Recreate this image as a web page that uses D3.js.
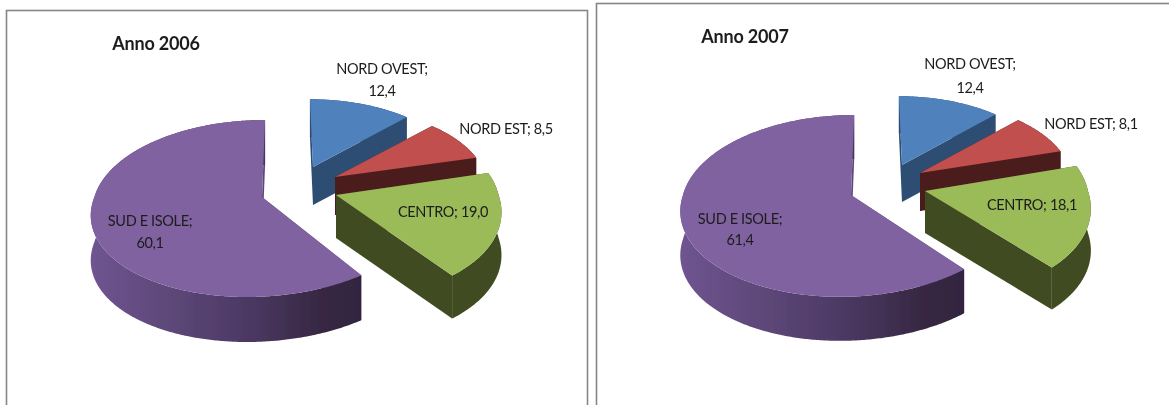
<!DOCTYPE html>
<html>
<head>
<meta charset="utf-8">
<script src="https://cdnjs.cloudflare.com/ajax/libs/d3/7.8.5/d3.min.js"></script>
<style>
html,body{margin:0;padding:0;background:#fff;overflow:hidden}
svg{display:block}
text{font-family:Lato,"Open Sans",sans-serif;fill:#1c1c1c}
</style>
</head>
<body>
<svg id="c" width="1169" height="405"></svg>
<script>
// ---- data ----
const categories = ["NORD OVEST", "NORD EST", "CENTRO", "SUD E ISOLE"];
const values2006 = [12.4, 8.5, 19.0, 60.1];
const values2007 = [12.4, 8.1, 18.1, 61.4];
const titles = ["Anno 2006", "Anno 2007"];

// ---- styling / layout ----
const topColors  = ["#4f81bd", "#c0504d", "#9bbb59", "#8062a0"];
const wallColors = ["#2e4d73", "#4b1d1b", "#3f4c21", "url(#PURPLE)"];
const fmt = v => v.toFixed(1).replace(".", ",");

const charts = [
  { title: titles[0], values: values2006, id: "a",
    frame: { x: 6.5, y: 10.5, w: 581, h: 420 },
    titlePos: [156, 43],
    k: 0.13, A: 167.6, B: 87,
    slices: [
      { ax: 313, ay: 167, sx: 0.89, sy: 0.88, up: 0.045, down: 0,     d: 38 },
      { ax: 335, ay: 177, sx: 0.90, sy: 0.90, up: 0,     down: 0,     d: 38 },
      { ax: 336, ay: 195, sx: 0.97, sy: 1.03, up: 0,     down: 0.105, d: 43 },
      { ax: 262, ay: 197, sx: 1.00, sy: 1.00, up: -0.04, down: -0.15, d: 45 }
    ],
    labels: [
      { lines: [0, 1], x: 382, y: 68, dy: 22 },
      { lines: [2], x: 506, y: 128 },
      { lines: [2], x: 443, y: 211 },
      { lines: [0, 1], x: 150, y: 220, dy: 22 }
    ] },
  { title: titles[1], values: values2007, id: "b",
    frame: { x: 596.5, y: 3.5, w: 600, h: 430 },
    titlePos: [745, 36],
    k: 0.12, A: 168, B: 89.6,
    slices: [
      { ax: 902, ay: 165, sx: 0.88, sy: 0.86, up: 0.045, down: 0,     d: 37 },
      { ax: 920, ay: 173, sx: 0.90, sy: 0.90, up: 0,     down: 0,     d: 38 },
      { ax: 925, ay: 191, sx: 0.97, sy: 1.03, up: 0,     down: 0.12,  d: 42 },
      { ax: 851, ay: 195, sx: 1.00, sy: 1.00, up: -0.04, down: -0.11, d: 44 }
    ],
    labels: [
      { lines: [0, 1], x: 970, y: 63, dy: 24 },
      { lines: [2], x: 1091, y: 123 },
      { lines: [2], x: 1032, y: 204 },
      { lines: [0, 1], x: 740, y: 218, dy: 21 }
    ] }
];

const svg = d3.select("#c");
const defs = svg.append("defs");
const blur = defs.append("filter").attr("id", "soft").attr("x", "-5%").attr("y", "-5%").attr("width", "110%").attr("height", "110%");
blur.append("feGaussianBlur").attr("stdDeviation", 0.45);

const pie = d3.pie().sort(null).startAngle(0).endAngle(2 * Math.PI);
const line = d3.line();

charts.forEach(ch => {
  const root = svg.append("g");
  root.append("rect")
    .attr("x", ch.frame.x).attr("y", ch.frame.y)
    .attr("width", ch.frame.w).attr("height", ch.frame.h)
    .attr("fill", "#fff").attr("stroke", "#868686").attr("stroke-width", 1.6);

  const arcs = pie(ch.values);
  const project = (a, r, sl, drop) => {
    const u = r * Math.sin(a), v = -r * Math.cos(a), w = 1 - ch.k * v;
    const X = sl.sx * ch.A * u / w, Y = sl.sy * ch.B * v / w;
    return [sl.ax + X + (Y < 0 ? sl.up : sl.down) * Y, sl.ay + Y + (drop || 0)];
  };
  const g = root.append("g").attr("filter", "url(#soft)");

  // purple wall gradient spans the whole visible outer wall
  const purple = arcs[3];
  const purpleSlice = ch.slices[3];
  const xs = d3.range(purple.startAngle, purple.endAngle, 0.02).map(a => project(a, 1, purpleSlice)[0]);
  const gid = "grad" + ch.id;
  const grad = defs.append("linearGradient").attr("id", gid)
    .attr("gradientUnits", "userSpaceOnUse")
    .attr("x1", d3.min(xs)).attr("x2", d3.max(xs)).attr("y1", 0).attr("y2", 0);
  [[0, "#6f5490"], [0.25, "#5f4a7c"], [0.55, "#4e3a66"], [0.85, "#372843"], [1, "#322440"]]
    .forEach(([o, c]) => grad.append("stop").attr("offset", o).attr("stop-color", c));

  // painter's order: back slices first, green last
  [0, 1, 3, 2].forEach(i => {
    const d = arcs[i], sl = ch.slices[i];
    const wall = wallColors[i] === "url(#PURPLE)" ? `url(#${gid})` : wallColors[i];
    const side = wallColors[i] === "url(#PURPLE)" ? "#5c4676" : wallColors[i];
    const angles = d3.range(d.startAngle, d.endAngle, 0.01).concat([d.endAngle]);
    const rim = angles.map(a => project(a, 1, sl));
    const rimLow = angles.map(a => project(a, 1, sl, sl.d)).reverse();
    const apex = [sl.ax, sl.ay], apexLow = [sl.ax, sl.ay + sl.d];

    // radial cut faces
    [d.startAngle, d.endAngle].forEach(a => {
      const p = project(a, 1, sl), q = project(a, 1, sl, sl.d);
      g.append("path").attr("d", line([apex, p, q, apexLow]) + "Z").attr("fill", side);
    });
    // outer wall
    g.append("path").attr("d", line(rim.concat(rimLow)) + "Z").attr("fill", wall);
    // top face
    g.append("path").attr("d", line([apex].concat(rim)) + "Z").attr("fill", topColors[i]);
  });

  // text
  const t = root.append("g").attr("filter", "url(#soft)");
  t.append("text").attr("x", ch.titlePos[0]).attr("y", ch.titlePos[1])
    .attr("text-anchor", "middle").attr("dominant-baseline", "central")
    .attr("font-size", 18).attr("font-weight", 700).attr("letter-spacing", -0.2)
    .text(ch.title);
  ch.labels.forEach((lb, i) => {
    const name = categories[i], val = fmt(ch.values[i]);
    const rows = lb.lines.length === 2 ? [name + ";", val] : [name + "; " + val];
    rows.forEach((row, j) => {
      t.append("text").attr("x", lb.x).attr("y", lb.y + j * (lb.dy || 0))
        .attr("text-anchor", "middle").attr("dominant-baseline", "central")
        .attr("font-size", 14.5).attr("letter-spacing", -0.35)
        .text(row);
    });
  });
});
</script>
</body>
</html>
